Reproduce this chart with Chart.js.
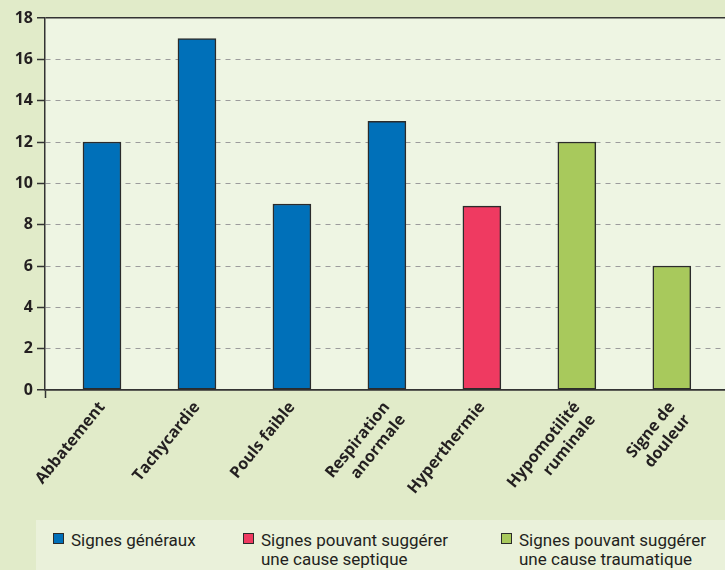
<!DOCTYPE html>
<html>
<head>
<meta charset="utf-8">
<script src="https://cdn.jsdelivr.net/npm/chart.js@4/dist/chart.umd.min.js"></script>
<style>
html, body { margin: 0; padding: 0; background: #e1ebc9; }
#wrap { position: relative; width: 725px; height: 570px; overflow: hidden; }
#myChart { position: absolute; left: 0; top: 0; }
#legend { position: absolute; left: 36px; top: 520px; width: 689px; height: 50px; background: #eaf1da;
  font-family: Roboto, "Open Sans", sans-serif; font-size: 17px; line-height: 19px; color: #231f20; }
.item { position: absolute; top: 11px; }
.box { position: absolute; left: 0; top: 2px; width: 9px; height: 9px; border: 1px solid #2b2b2b; }
.txt { position: absolute; left: 18px; top: 0; white-space: nowrap; }
</style>
</head>
<body>
<div id="wrap">
  <canvas id="myChart" width="725" height="570"></canvas>
  <div id="legend"></div>
</div>
<script>
// categories (multi-line labels as arrays)
var categories = ['Abbatement', 'Tachycardie', 'Pouls faible', ['Respiration', 'anormale'],
  'Hyperthermie', ['Hypomotilité', 'ruminale'], ['Signe de', 'douleur']];

// series values, one per legend group
var signesGeneraux = [12, 17, 9, 13, null, null, null];
var signesSeptiques = [null, null, null, null, 8.9, null, null];
var signesTraumatiques = [null, null, null, null, null, 12, 6];

var seriesNames = ['Signes généraux', 'Signes pouvant suggérer\nune cause septique', 'Signes pouvant suggérer\nune cause traumatique'];
var seriesColors = ['#0070b9', '#ef3a61', '#a8c95c'];

var yTicks = [0, 2, 4, 6, 8, 10, 12, 14, 16, 18];

function toPoints(values) {
  var pts = [];
  values.forEach(function (v, i) {
    if (v !== null) pts.push({ x: i, y: v });
  });
  return pts;
}

var plotBackground = {
  id: 'plotBackground',
  beforeDraw: function (chart) {
    var ctx = chart.ctx, a = chart.chartArea;
    ctx.save();
    ctx.fillStyle = '#eef5e3';
    ctx.fillRect(a.left, a.top, a.right - a.left, a.bottom - a.top);
    ctx.restore();
  }
};

var ctx = document.getElementById('myChart').getContext('2d');
var myChart = new Chart(ctx, {
  type: 'bar',
  data: {
    datasets: [
      { label: seriesNames[0], data: toPoints(signesGeneraux), backgroundColor: seriesColors[0] },
      { label: seriesNames[1], data: toPoints(signesSeptiques), backgroundColor: seriesColors[1] },
      { label: seriesNames[2], data: toPoints(signesTraumatiques), backgroundColor: seriesColors[2] }
    ]
  },
  options: {
    responsive: false,
    animation: false,
    layout: { padding: { top: 18, left: 0, right: 0, bottom: 0 } },
    datasets: {
      bar: { barThickness: 38, grouped: false, borderWidth: 1.5, borderColor: '#2b2b2b', borderSkipped: false }
    },
    plugins: {
      legend: { display: false },
      tooltip: { enabled: false }
    },
    scales: {
      x: {
        type: 'linear',
        min: -0.6,
        max: 6.56,
        offset: false,
        afterBuildTicks: function (scale) {
          scale.ticks = [{ value: -0.6 }].concat(categories.map(function (c, i) { return { value: i }; }));
        },
        afterFit: function (scale) { scale.height = 180; },
        grid: {
          offset: false,
          drawOnChartArea: false,
          tickLength: 8,
          tickWidth: 1.5,
          tickColor: function (c) { return c.index === 0 ? '#333' : 'rgba(0,0,0,0)'; }
        },
        border: { color: '#333', width: 1.5 },
        ticks: {
          autoSkip: false,
          minRotation: 51,
          maxRotation: 51,
          padding: 0,
          color: '#231f20',
          font: { family: '"Open Sans", sans-serif', size: 16, weight: 'bold', lineHeight: 1.25 },
          callback: function (value, index) { return index === 0 ? '' : categories[value]; }
        }
      },
      y: {
        min: 0,
        max: 18,
        afterBuildTicks: function (scale) {
          scale.ticks = yTicks.map(function (v) { return { value: v }; });
        },
        afterFit: function (scale) { scale.width = 45; },
        grid: {
          color: function (c) { return c.tick && (c.tick.value === 18 || c.tick.value === 0) ? '#333' : '#9c9c9c'; },
          lineWidth: function (c) { return c.tick && (c.tick.value === 18 || c.tick.value === 0) ? 1.5 : 1; },
          tickLength: 8,
          tickColor: '#333',
          tickWidth: 1.5
        },
        border: {
          color: '#333',
          width: 1.5,
          dash: function (c) { return c.tick && (c.tick.value === 18 || c.tick.value === 0) ? [] : [5, 5]; }
        },
        ticks: {
          padding: 4,
          color: '#231f20',
          font: { family: '"Open Sans", sans-serif', size: 16, weight: 'bold' }
        }
      }
    }
  },
  plugins: [plotBackground]
});

// html legend built from the series arrays
var legendLeft = [17, 207, 465];
var legend = document.getElementById('legend');
seriesNames.forEach(function (name, i) {
  var item = document.createElement('div');
  item.className = 'item';
  item.style.left = legendLeft[i] + 'px';
  var box = document.createElement('div');
  box.className = 'box';
  box.style.background = seriesColors[i];
  var txt = document.createElement('div');
  txt.className = 'txt';
  txt.innerHTML = name.split('\n').join('<br>');
  item.appendChild(box);
  item.appendChild(txt);
  legend.appendChild(item);
});
</script>
</body>
</html>
